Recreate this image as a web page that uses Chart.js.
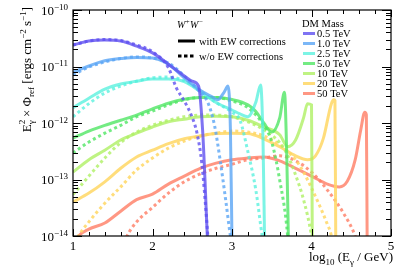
<!DOCTYPE html>
<html lang="en">
<head>
<meta charset="UTF-8" />
<title>W+W- gamma-ray spectra</title>
<script src="https://cdn.jsdelivr.net/npm/chart.js@4"></script>
<style>
  html, body { margin: 0; padding: 0; background: #fff; }
  #wrap { width: 407px; height: 272px; }
</style>
</head>
<body>
<div id="wrap"><canvas id="spec" width="407" height="272"></canvas></div>
<script>
// DM masses and colours
const massLabels = ['0.5 TeV', '1.0 TeV', '2.5 TeV', '5.0 TeV', '10 TeV', '20 TeV', '50 TeV'];
const massColors = [
  'rgba(95,80,240,0.8)',
  'rgba(90,165,245,0.8)',
  'rgba(80,240,220,0.75)',
  'rgba(80,230,100,0.8)',
  'rgba(175,240,100,0.8)',
  'rgba(255,215,100,0.85)',
  'rgba(255,125,100,0.8)'
];

// log10(E/GeV) and E^2 Phi
// with EW corrections (solid)
const ew05X = [1.0, 1.2, 1.4, 1.6, 1.8, 2.0, 2.2, 2.4, 2.5, 2.58, 2.63, 2.66, 2.69, 2.71];
const ew05Y = [2.4e-11, 2.82e-11, 2.95e-11, 2.82e-11, 2.29e-11, 1.74e-11, 1.1e-11, 6.8e-12, 5.5e-12, 4.5e-12, 7.6e-13, 1.0e-13, 1.0e-14, 5e-15];
const ew10X = [1.0, 1.2, 1.4, 1.6, 1.8, 2.0, 2.2, 2.4, 2.6, 2.75, 2.82, 2.9, 2.95, 2.98, 3.0];
const ew10Y = [7.9e-12, 1.02e-11, 1.26e-11, 1.38e-11, 1.45e-11, 1.41e-11, 1.1e-11, 6.3e-12, 3.8e-12, 2.9e-12, 2.57e-12, 3.5e-12, 4.5e-12, 7.6e-13, 8e-15];
const ew25X = [1.0, 1.2, 1.4, 1.6, 1.8, 2.0, 2.2, 2.4, 2.6, 2.8, 3.0, 3.1, 3.2, 3.3, 3.36, 3.39, 3.41];
const ew25Y = [1.86e-12, 2.75e-12, 3.98e-12, 4.9e-12, 5.5e-12, 6.0e-12, 6.0e-12, 5.4e-12, 3.6e-12, 2.3e-12, 1.7e-12, 1.45e-12, 1.29e-12, 2.34e-12, 4.7e-12, 5e-13, 8e-15];
const ew50X = [1.0, 1.2, 1.4, 1.6, 1.8, 2.0, 2.2, 2.4, 2.6, 2.8, 3.0, 3.2, 3.3, 3.4, 3.5, 3.6, 3.66, 3.69, 3.71];
const ew50Y = [5.4e-13, 7.2e-13, 9.1e-13, 1.12e-12, 1.38e-12, 1.78e-12, 2.24e-12, 2.63e-12, 2.82e-12, 2.82e-12, 2.6e-12, 2.1e-12, 1.6e-12, 1.0e-12, 6.9e-13, 1.23e-12, 3.5e-12, 2.2e-13, 8e-15];
const ew100X = [1.0, 1.2, 1.4, 1.6, 1.8, 2.0, 2.2, 2.4, 2.6, 2.8, 3.0, 3.2, 3.4, 3.6, 3.7, 3.8, 3.9, 3.95, 4.0, 4.01];
const ew100Y = [1.35e-13, 2.24e-13, 3.3e-13, 5.0e-13, 6.6e-13, 8.5e-13, 1.05e-12, 1.17e-12, 1.29e-12, 1.32e-12, 1.29e-12, 1.12e-12, 8.5e-13, 6.2e-13, 3.8e-13, 5.0e-13, 1.23e-12, 2.2e-12, 2.1e-12, 8e-15];
const ew200X = [1.0, 1.2, 1.4, 1.6, 1.8, 2.0, 2.2, 2.4, 2.6, 2.8, 3.0, 3.2, 3.4, 3.6, 3.8, 3.95, 4.05, 4.15, 4.25, 4.28, 4.295, 4.305];
const ew200Y = [4.0e-14, 5.75e-14, 9.1e-14, 1.58e-13, 2.5e-13, 3.3e-13, 4.3e-13, 5.25e-13, 5.9e-13, 6.5e-13, 6.6e-13, 6.5e-13, 5.25e-13, 3.8e-13, 2.63e-13, 2.24e-13, 2.63e-13, 5.4e-13, 2.2e-12, 2.57e-12, 2.5e-12, 8e-15];
const ew500X = [1.0, 1.07, 1.2, 1.4, 1.6, 1.8, 2.0, 2.2, 2.4, 2.6, 2.8, 3.0, 3.2, 3.4, 3.6, 3.8, 4.0, 4.2, 4.35, 4.45, 4.55, 4.62, 4.67, 4.69, 4.70];
const ew500Y = [7e-15, 1e-14, 1.32e-14, 1.7e-14, 2.75e-14, 4.4e-14, 5.5e-14, 8.3e-14, 1.15e-13, 1.58e-13, 1.95e-13, 2.24e-13, 2.4e-13, 2.5e-13, 2.14e-13, 1.58e-13, 1.15e-13, 8.3e-14, 7.4e-14, 9.3e-14, 2.24e-13, 7.6e-13, 1.55e-12, 1.4e-12, 8e-15];

// without EW corrections (dotted)
const noew05X = [1.0, 1.2, 1.4, 1.6, 1.8, 2.0, 2.2, 2.3, 2.4, 2.5, 2.56, 2.62, 2.69, 2.71];
const noew05Y = [2.4e-11, 2.82e-11, 3.0e-11, 2.88e-11, 2.4e-11, 1.82e-11, 9.5e-12, 4.2e-12, 2.45e-12, 1.25e-12, 6.6e-13, 1.95e-13, 1.3e-14, 5e-15];
const noew10X = [1.0, 1.2, 1.4, 1.6, 1.8, 2.0, 2.2, 2.4, 2.6, 2.7, 2.78, 2.85, 2.92, 2.98, 3.0];
const noew10Y = [7.1e-12, 9.8e-12, 1.2e-11, 1.38e-11, 1.48e-11, 1.41e-11, 1.15e-11, 6.8e-12, 3.5e-12, 2.24e-12, 9.1e-13, 2.24e-13, 4.4e-14, 1e-14, 7e-15];
const noew25X = [1.0, 1.2, 1.4, 1.6, 1.8, 2.0, 2.2, 2.4, 2.6, 2.8, 3.0, 3.1, 3.2, 3.3, 3.38, 3.41];
const noew25Y = [1.29e-12, 2.2e-12, 3.4e-12, 4.5e-12, 5.5e-12, 6.3e-12, 6.5e-12, 5.6e-12, 3.7e-12, 2.3e-12, 1.55e-12, 1.12e-12, 3.1e-13, 6.5e-14, 1e-14, 6e-15];
const noew50X = [1.0, 1.2, 1.4, 1.6, 1.8, 2.0, 2.2, 2.4, 2.6, 2.8, 3.0, 3.2, 3.4, 3.5, 3.6, 3.7, 3.71];
const noew50Y = [2.95e-13, 4.6e-13, 6.6e-13, 9.1e-13, 1.29e-12, 1.62e-12, 2.1e-12, 2.57e-12, 2.82e-12, 2.82e-12, 2.45e-12, 1.86e-12, 9.1e-13, 4.6e-13, 9.8e-14, 1e-14, 6e-15];
const noew100X = [1.0, 1.2, 1.4, 1.6, 1.8, 2.0, 2.2, 2.4, 2.6, 2.8, 3.0, 3.2, 3.4, 3.6, 3.7, 3.8, 3.9, 4.0, 4.02];
const noew100Y = [5.4e-14, 1.15e-13, 2.4e-13, 4.5e-13, 6.9e-13, 9.1e-13, 1.12e-12, 1.29e-12, 1.38e-12, 1.38e-12, 1.29e-12, 1.05e-12, 7.6e-13, 4.5e-13, 2.7e-13, 1.2e-13, 4.4e-14, 1e-14, 6e-15];
const noew200X = [1.0, 1.07, 1.2, 1.4, 1.6, 1.8, 2.0, 2.2, 2.4, 2.6, 2.8, 3.0, 3.2, 3.4, 3.6, 3.8, 3.9, 4.0, 4.1, 4.2, 4.25, 4.27];
const noew200Y = [6e-15, 1e-14, 1.78e-14, 3.8e-14, 7.4e-14, 1.48e-13, 2.4e-13, 3.6e-13, 4.8e-13, 5.9e-13, 6.6e-13, 7.2e-13, 6.9e-13, 5.9e-13, 4.1e-13, 2.24e-13, 1.35e-13, 7.1e-14, 3.5e-14, 1.6e-14, 1e-14, 6e-15];
const noew500X = [1.62, 1.68, 1.8, 2.0, 2.2, 2.4, 2.6, 2.8, 3.0, 3.2, 3.4, 3.6, 3.8, 4.0, 4.2, 4.4, 4.55, 4.6];
const noew500Y = [6e-15, 1e-14, 1.78e-14, 3.2e-14, 5.75e-14, 9.1e-14, 1.26e-13, 1.58e-13, 1.86e-13, 2.24e-13, 2.4e-13, 2.63e-13, 2.14e-13, 1.35e-13, 6.5e-14, 2.57e-14, 1e-14, 6e-15];

const yDecades = [-14, -13, -12, -11, -10];

const solidX = [ew05X, ew10X, ew25X, ew50X, ew100X, ew200X, ew500X];
const solidY = [ew05Y, ew10Y, ew25Y, ew50Y, ew100Y, ew200Y, ew500Y];
const dotX = [noew05X, noew10X, noew25X, noew50X, noew100X, noew200X, noew500X];
const dotY = [noew05Y, noew10Y, noew25Y, noew50Y, noew100Y, noew200Y, noew500Y];

const SERIF = "'Liberation Serif', 'Times New Roman', serif";

function pts(xs, ys) {
  return xs.map((x, i) => ({ x: x, y: ys[i] }));
}

const datasets = [];
massLabels.forEach((m, i) => {
  datasets.push({
    label: m + ' with EW',
    data: pts(solidX[i], solidY[i]),
    borderColor: massColors[i],
    borderWidth: 3,
    cubicInterpolationMode: 'monotone',
    pointRadius: 0,
    fill: false
  });
  datasets.push({
    label: m + ' w/o EW',
    data: pts(dotX[i], dotY[i]),
    borderColor: massColors[i],
    borderWidth: 3,
    borderDash: [3, 3],
    cubicInterpolationMode: 'monotone',
    pointRadius: 0,
    fill: false
  });
});

// text with sub/superscripts
function richWidth(ctx, parts) {
  let w = 0;
  parts.forEach(p => {
    ctx.font = (p.it ? 'italic ' : '') + p.s + 'px ' + SERIF;
    if (!p.noAdv) w += ctx.measureText(p.t).width;
  });
  return w;
}
function drawRich(ctx, x, y, parts) {
  let cx = x;
  parts.forEach(p => {
    ctx.font = (p.it ? 'italic ' : '') + p.s + 'px ' + SERIF;
    ctx.fillText(p.t, cx, y + (p.dy || 0));
    if (!p.noAdv) cx += ctx.measureText(p.t).width;
  });
}

const decor = {
  id: 'decor',
  afterDraw(chart) {
    const ctx = chart.ctx;
    const a = chart.chartArea;
    const xs = chart.scales.x, ys = chart.scales.y;
    ctx.save();
    ctx.strokeStyle = '#000';
    ctx.fillStyle = '#000';
    ctx.lineWidth = 1.2;
    ctx.strokeRect(a.left, a.top, a.right - a.left, a.bottom - a.top);

    // x ticks, inward on bottom and top
    ctx.lineWidth = 1;
    ctx.beginPath();
    for (let k = 0; k <= 20; k++) {
      const v = 1 + k * 0.2;
      const len = (k % 5 === 0) ? 7 : 4;
      const px = Math.round(xs.getPixelForValue(v)) + 0.5;
      ctx.moveTo(px, a.bottom); ctx.lineTo(px, a.bottom - len);
      ctx.moveTo(px, a.top); ctx.lineTo(px, a.top + len);
    }
    // y ticks, log minor
    yDecades.forEach(d => {
      for (let m = 1; m <= 9; m++) {
        if (d === -10 && m > 1) break;
        const py = Math.round(ys.getPixelForValue(m * Math.pow(10, d))) + 0.5;
        const len = m === 1 ? 9 : 5;
        ctx.moveTo(a.left, py); ctx.lineTo(a.left + len, py);
        ctx.moveTo(a.right, py); ctx.lineTo(a.right - len, py);
      }
    });
    ctx.stroke();

    // y tick labels
    ctx.textBaseline = 'alphabetic';
    yDecades.forEach(d => {
      const py = ys.getPixelForValue(Math.pow(10, d));
      const parts = [{ t: '10', s: 13 }, { t: '\u2212' + (-d), s: 9, dy: -5 }];
      const w = richWidth(ctx, parts);
      drawRich(ctx, 68 - w, py + 4.5, parts);
    });

    // y title (rotated, aligned to top)
    ctx.save();
    ctx.translate(31, 0);
    ctx.rotate(-Math.PI / 2);
    const yt = [
      { t: 'E', s: 13 }, { t: '2', s: 9, dy: -6, noAdv: true }, { t: '\u03b3', s: 9, dy: 3 },
      { t: ' \u00d7 \u03a6', s: 13 }, { t: 'ref', s: 9, dy: 3 },
      { t: ' [ergs cm', s: 13 }, { t: '\u22122', s: 9, dy: -5 },
      { t: ' s', s: 13 }, { t: '\u22121', s: 9, dy: -5 }, { t: ']', s: 13 }
    ];
    const ytw = richWidth(ctx, yt);
    drawRich(ctx, -7 - ytw, 0, yt);
    ctx.restore();

    // x title (aligned to right)
    const xt = [
      { t: 'log', s: 13 }, { t: '10', s: 9, dy: 4 }, { t: ' (E', s: 13 },
      { t: '\u03b3', s: 9, dy: 4 }, { t: ' / GeV)', s: 13 }
    ];
    const xtw = richWidth(ctx, xt);
    drawRich(ctx, 393 - xtw, 261, xt);

    // channel and line-style legend
    drawRich(ctx, 177, 28, [
      { t: 'W', s: 10, it: true }, { t: '+', s: 7, dy: -4, it: true },
      { t: 'W', s: 10, it: true }, { t: '\u2212', s: 7, dy: -4, it: true }
    ]);
    ctx.lineWidth = 3;
    ctx.beginPath(); ctx.moveTo(178, 41); ctx.lineTo(195, 41); ctx.stroke();
    ctx.setLineDash([3.5, 2.5]);
    ctx.beginPath(); ctx.moveTo(178, 56); ctx.lineTo(196, 56); ctx.stroke();
    ctx.setLineDash([]);
    ctx.font = '10.5px ' + SERIF;
    ctx.fillText('with EW corrections', 199, 45);
    ctx.fillText('w/o EW corrections', 199, 60);

    // DM mass legend
    ctx.fillText('DM Mass', 302, 27);
    massLabels.forEach((m, i) => {
      const by = 37 + i * 10;
      ctx.strokeStyle = massColors[i];
      ctx.lineWidth = 3;
      ctx.beginPath(); ctx.moveTo(303, by - 3.5); ctx.lineTo(315, by - 3.5); ctx.stroke();
      ctx.fillStyle = '#000';
      ctx.fillText(m, 317, by);
    });
    ctx.restore();
  }
};

new Chart(document.getElementById('spec').getContext('2d'), {
  type: 'line',
  data: { datasets: datasets },
  options: {
    responsive: false,
    animation: false,
    layout: { padding: { top: 10, right: 16, left: 0, bottom: 0 } },
    plugins: { legend: { display: false }, tooltip: { enabled: false } },
    scales: {
      x: {
        type: 'linear',
        min: 1, max: 5,
        afterFit(s) { s.height = 36; },
        grid: { display: false, drawTicks: false },
        border: { display: false },
        ticks: {
          stepSize: 1,
          padding: 3,
          color: '#000',
          font: { family: SERIF, size: 13 },
          callback: v => Number.isInteger(v) ? String(v) : ''
        }
      },
      y: {
        type: 'logarithmic',
        min: 1e-14, max: 1e-10,
        afterFit(s) { s.width = 73; },
        grid: { display: false, drawTicks: false },
        border: { display: false },
        ticks: { display: false }
      }
    }
  },
  plugins: [decor]
});
</script>
</body>
</html>
